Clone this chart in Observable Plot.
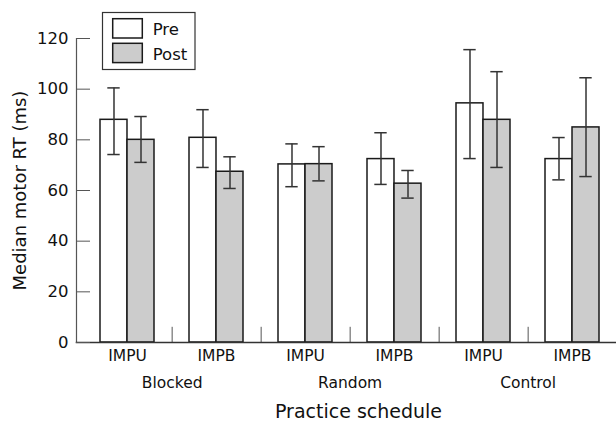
<!DOCTYPE html>
<html><head><meta charset="utf-8">
<script src="https://cdn.jsdelivr.net/npm/d3@7"></script>
<script src="https://cdn.jsdelivr.net/npm/@observablehq/plot@0.6"></script>
<style>body{margin:0;background:#fff}</style>
</head><body><div id="chart"></div>
<script>
const groups = ["Blocked","Blocked","Random","Random","Control","Control"];
const subgroups = ["IMPU","IMPB","IMPU","IMPB","IMPU","IMPB"];
const preMean  = [87.9, 80.8, 70.3, 72.4, 94.4, 72.4];
const preLow   = [74.2, 69.1, 61.5, 62.4, 72.6, 64.2];
const preHigh  = [100.5, 91.9, 78.4, 82.8, 115.6, 80.9];
const postMean = [80.0, 67.4, 70.4, 62.7, 87.9, 84.9];
const postLow  = [71.1, 60.8, 63.8, 57.0, 69.1, 65.5];
const postHigh = [89.2, 73.3, 77.3, 67.9, 106.9, 104.5];
const yTicks = [0, 20, 40, 60, 80, 100, 120];
const seriesNames = ["Pre", "Post"];
const groupNames = ["Blocked", "Random", "Control"];

const keys = groups.map((g, i) => g + "|" + subgroups[i]);
const pre = keys.map((k, i) => ({key: k, mean: preMean[i], lo: preLow[i], hi: preHigh[i]}));
const post = keys.map((k, i) => ({key: k, mean: postMean[i], lo: postLow[i], hi: postHigh[i]}));
const dividers = keys.slice(0, -1);
const groupLabelRows = groupNames.map(g => ({key: g + "|IMPU", name: g}));

const W = 616, H = 421;
const xr = [81.2, 616.9];
const step = (xr[1] - xr[0]) / keys.length;
const half = step / 2;
const bw = step * 0.605;
const FONT = "'DejaVu Sans', sans-serif";
const strokeBar = "#1a1a1a";
const strokeErr = "#333";

const chart = Plot.plot({
  width: W, height: H,
  marginLeft: 76, marginRight: 0, marginTop: 38, marginBottom: 79,
  style: {fontFamily: FONT, fontSize: "16px", color: "#111", background: "#fff"},
  x: {domain: keys, range: xr, paddingInner: 0.395, paddingOuter: 0.1975, axis: null},
  y: {domain: [0, 120], axis: null},
  marks: [
    Plot.barY(pre, {x: "key", y: "mean", fill: "#fff", stroke: strokeBar, strokeWidth: 1.5, insetRight: bw / 2}),
    Plot.barY(post, {x: "key", y: "mean", fill: "#cccccc", stroke: strokeBar, strokeWidth: 1.5, insetLeft: bw / 2}),
    Plot.ruleX(pre, {x: "key", y1: "lo", y2: "hi", dx: -bw / 4, stroke: strokeErr, strokeWidth: 1.5}),
    Plot.ruleX(post, {x: "key", y1: "lo", y2: "hi", dx: bw / 4, stroke: strokeErr, strokeWidth: 1.5}),
    Plot.tickY(pre, {x: "key", y: "lo", dx: -bw / 4, insetLeft: bw / 2 - 6.2, insetRight: bw / 2 - 6.2, stroke: strokeErr, strokeWidth: 1.5}),
    Plot.tickY(pre, {x: "key", y: "hi", dx: -bw / 4, insetLeft: bw / 2 - 6.2, insetRight: bw / 2 - 6.2, stroke: strokeErr, strokeWidth: 1.5}),
    Plot.tickY(post, {x: "key", y: "lo", dx: bw / 4, insetLeft: bw / 2 - 6.2, insetRight: bw / 2 - 6.2, stroke: strokeErr, strokeWidth: 1.5}),
    Plot.tickY(post, {x: "key", y: "hi", dx: bw / 4, insetLeft: bw / 2 - 6.2, insetRight: bw / 2 - 6.2, stroke: strokeErr, strokeWidth: 1.5}),
    Plot.ruleX(dividers, {x: d => d, dx: half, y1: 0, y2: 6, stroke: "#555", strokeWidth: 1}),
    Plot.frame({anchor: "left", stroke: "#555", strokeWidth: 1.2}),
    Plot.frame({anchor: "bottom", stroke: "#333", strokeWidth: 1.5}),
    Plot.axisY({ticks: yTicks, tickSize: -14, tickPadding: 8 + 14, stroke: "#555", fontSize: 16.5, tickFormat: d => d}),
    Plot.axisX({ticks: keys, tickSize: 0, tickPadding: 7, fontSize: 15.5, tickFormat: k => k.split("|")[1], label: null}),
    Plot.text(groupLabelRows, {x: "key", text: "name", dx: half, frameAnchor: "bottom", dy: 41, lineAnchor: "middle", fontSize: 15.5}),
    Plot.text(["Practice schedule"], {frameAnchor: "bottom", textAnchor: "middle", dx: 12, dy: 69, lineAnchor: "middle", fontSize: 19}),
    Plot.text(["Median motor RT (ms)"], {frameAnchor: "left", textAnchor: "middle", dx: -56, rotate: -90, lineAnchor: "middle", fontSize: 18})
  ]
});
document.getElementById("chart").appendChild(chart);

// Legend drawn inside the plot's SVG
const svg = d3.select(chart);
const lg = svg.append("g").attr("font-family", FONT).attr("font-size", 16.5).attr("fill", "#111").attr("text-anchor", "start");
lg.append("rect").attr("x", 102.5).attr("y", 12.5).attr("width", 92.5).attr("height", 57).attr("fill", "#fff").attr("stroke", "#333").attr("stroke-width", 1.2);
const swFills = ["#fff", "#cccccc"];
seriesNames.forEach((name, i) => {
  const y0 = 18.7 + i * 24.6;
  lg.append("rect").attr("x", 112.7).attr("y", y0).attr("width", 29.6).attr("height", 19.3)
    .attr("fill", swFills[i]).attr("stroke", strokeBar).attr("stroke-width", 1.5);
  lg.append("text").attr("x", 152.7).attr("y", y0 + 16.3).attr("text-anchor", "start").text(name);
});
</script>
</body></html>
